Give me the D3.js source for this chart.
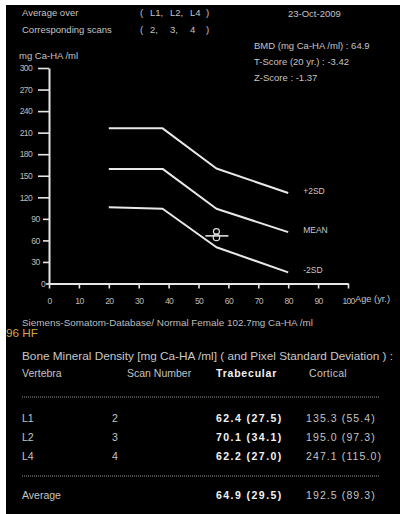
<!DOCTYPE html>
<html><head><meta charset="utf-8">
<script src="https://cdn.jsdelivr.net/npm/d3@7"></script>
<style>
body{margin:0;background:#fff}
svg{display:block}
text{font-family:"Liberation Sans",Arial,sans-serif}
</style>
</head><body>
<svg id="c" width="400" height="514"></svg>
<script>
// ---- data ----
const vertebrae = ["L1", "L2", "L4"];
const scanNumbers = [2, 3, 4];
const trabecular = [62.4, 70.1, 62.2];
const trabecularSD = [27.5, 34.1, 27.0];
const cortical = [135.3, 195.0, 247.1];
const corticalSD = [55.4, 97.3, 115.0];
const averageTrab = [64.9, 29.5];
const averageCort = [192.5, 89.3];
const refAges = [20, 38, 56, 80];
const plus2SD = [216, 216, 160, 126];
const meanCurve = [159.5, 159.5, 104, 71.5];
const minus2SD = [106, 104, 50.5, 15.5];
const curveNames = ["+2SD", "MEAN", "-2SD"];
const patient = {age: 56, bmd: 64.9, tScore: -3.42, zScore: -1.37, date: "23-Oct-2009"};
const xTicks = d3.range(0, 101, 10);
const yTicks = d3.range(0, 301, 30);

// ---- drawing ----
const svg = d3.select("#c");
svg.append("rect").attr("x", 6).attr("y", 5).attr("width", 394).attr("height", 509).attr("fill", "#000");

const grey = "#c4c4c4";
function txt(x, y, s, opt = {}) {
  const t = svg.append("text").attr("x", x).attr("y", y).text(s)
    .attr("font-size", opt.size || 9.5).attr("fill", opt.fill || grey);
  if (opt.bold) t.attr("font-weight", "bold");
  if (opt.ls != null) t.attr("letter-spacing", opt.ls);
  if (opt.anchor) t.attr("text-anchor", opt.anchor);
  if (opt.len) t.attr("textLength", opt.len).attr("lengthAdjust", "spacingAndGlyphs");
  return t;
}

// header
txt(22, 16, "Average over");
txt(22, 32.5, "Corresponding scans");
const listX = [150, 170, 190];
txt(140, 16, "(");
txt(140, 32.5, "(");
vertebrae.forEach((v, i) => txt(listX[i], 16, v + (i < vertebrae.length - 1 ? "," : "")));
scanNumbers.forEach((v, i) => txt(listX[i], 32.5, v + (i < scanNumbers.length - 1 ? "," : "")));
txt(206, 16, ")");
txt(206, 32.5, ")");
txt(288, 17, patient.date);
txt(254, 48.5, "BMD (mg Ca-HA /ml) : " + averageTrab[0].toFixed(1));
txt(254, 65, "T-Score (20 yr.) : " + patient.tScore.toFixed(2));
txt(254, 80.5, "Z-Score : " + patient.zScore.toFixed(2));
txt(19, 59, "mg Ca-HA /ml");

// scales
const x = d3.scaleLinear().domain([0, 100]).range([49, 348]);
const y = d3.scaleLinear().domain([0, 300]).range([283.5, 68]);
const axisCol = "#e6e6e6";

// x axis
const gx = svg.append("g").attr("transform", `translate(0,${y(0)})`)
  .call(d3.axisBottom(x).tickValues(xTicks).tickSize(5).tickSizeOuter(0).tickPadding(9));
gx.select(".domain").attr("stroke", axisCol).attr("stroke-width", 2);
gx.selectAll(".tick line").attr("stroke", axisCol).attr("stroke-width", 1.6);
gx.selectAll(".tick text").attr("fill", "#bbb").attr("font-size", 8.6)
  .attr("letter-spacing", -0.7).attr("font-family", "Liberation Sans, Arial, sans-serif");
txt(355, 302, "Age (yr.)", {size: 8.5, len: 35});

// y axis (custom tick lengths like the original)
const tickLen = {1: 3, 2: 6, 3: 11};
const labEnd = {1: 4, 2: 9.5, 3: 17};
const gy = svg.append("g").attr("transform", `translate(${x(0)},0)`)
  .call(d3.axisLeft(y).tickValues(yTicks).tickSize(0).tickSizeOuter(0));
gy.select(".domain").attr("stroke", axisCol).attr("stroke-width", 2);
gy.selectAll(".tick").each(function (d) {
  const n = String(d).length;
  const g = d3.select(this);
  g.select("line").attr("x2", -tickLen[n]).attr("stroke", axisCol).attr("stroke-width", 1.6);
  g.select("text").attr("x", -labEnd[n]).attr("dy", "0.32em").attr("fill", "#bbb")
    .attr("font-size", 8.6).attr("letter-spacing", -0.7)
    .attr("font-family", "Liberation Sans, Arial, sans-serif");
});

// reference curves
const line = d3.line().x(d => x(d[0])).y(d => y(d[1]));
[plus2SD, meanCurve, minus2SD].forEach((vals, k) => {
  svg.append("path").datum(refAges.map((a, i) => [a, vals[i]]))
    .attr("d", line).attr("fill", "none").attr("stroke", "#e8e8e8")
    .attr("stroke-width", 2).attr("stroke-linejoin", "round");
  txt(x(refAges[refAges.length - 1]) + 15, y(vals[vals.length - 1]) + 1, curveNames[k], {size: 8.5, fill: "#c8c8c8"});
});

// patient marker
const px = x(patient.age), py = y(patient.bmd);
svg.append("line").attr("x1", px - 11).attr("x2", px + 12).attr("y1", py - 1).attr("y2", py - 1)
  .attr("stroke", "#ddd").attr("stroke-width", 1.6);
svg.append("ellipse").attr("cx", px).attr("cy", py - 5.5).attr("rx", 3).attr("ry", 2.8)
  .attr("fill", "none").attr("stroke", "#ddd").attr("stroke-width", 1.2);
svg.append("ellipse").attr("cx", px).attr("cy", py + 0.5).attr("rx", 3.2).attr("ry", 3.2)
  .attr("fill", "none").attr("stroke", "#ddd").attr("stroke-width", 1.2);

// database line
txt(22, 325.5, "Siemens-Somatom-Database/ Normal Female 102.7mg Ca-HA /ml", {size: 9.8, len: 291, fill: "#bdbdbd"});
txt(6, 337, "96 HF", {size: 11, fill: "#d2a648", len: 32});

// table
txt(22, 360, "Bone Mineral Density [mg Ca-HA /ml] ( and Pixel Standard Deviation ) :", {size: 10.5, len: 371, fill: "#c8c8c8"});
const colX = [22, 127, 216, 309];
txt(colX[0], 376.5, "Vertebra", {size: 10.5});
txt(colX[1], 376.5, "Scan Number", {size: 10.5});
txt(colX[2], 376.5, "Trabecular", {size: 10.5, bold: true, fill: "#f2f2f2", ls: 0.8});
txt(colX[3], 376.5, "Cortical", {size: 10.5, ls: 0.3});

function dotted(yy) {
  svg.append("line").attr("x1", 22).attr("x2", 380).attr("y1", yy).attr("y2", yy)
    .attr("stroke", "#9a9a9a").attr("stroke-width", 1).attr("stroke-dasharray", "1,1");
}
dotted(397);
dotted(476);

const rowY = [421.5, 440.5, 460];
const fmt = (v, sd) => v.toFixed(1) + " (" + sd.toFixed(1) + ")";
vertebrae.forEach((v, i) => {
  txt(colX[0], rowY[i], v, {size: 10.5});
  txt(112, rowY[i], String(scanNumbers[i]), {size: 10.5});
  txt(colX[2], rowY[i], fmt(trabecular[i], trabecularSD[i]), {size: 10.5, bold: true, fill: "#f2f2f2", ls: 1.45});
  txt(306, rowY[i], fmt(cortical[i], corticalSD[i]), {size: 10.5, ls: 1.1});
});
txt(colX[0], 498.5, "Average", {size: 10.5});
txt(colX[2], 498.5, fmt(averageTrab[0], averageTrab[1]), {size: 10.5, bold: true, fill: "#f2f2f2", ls: 1.45});
txt(306, 498.5, fmt(averageCort[0], averageCort[1]), {size: 10.5, ls: 1.1});
</script>
</body></html>
